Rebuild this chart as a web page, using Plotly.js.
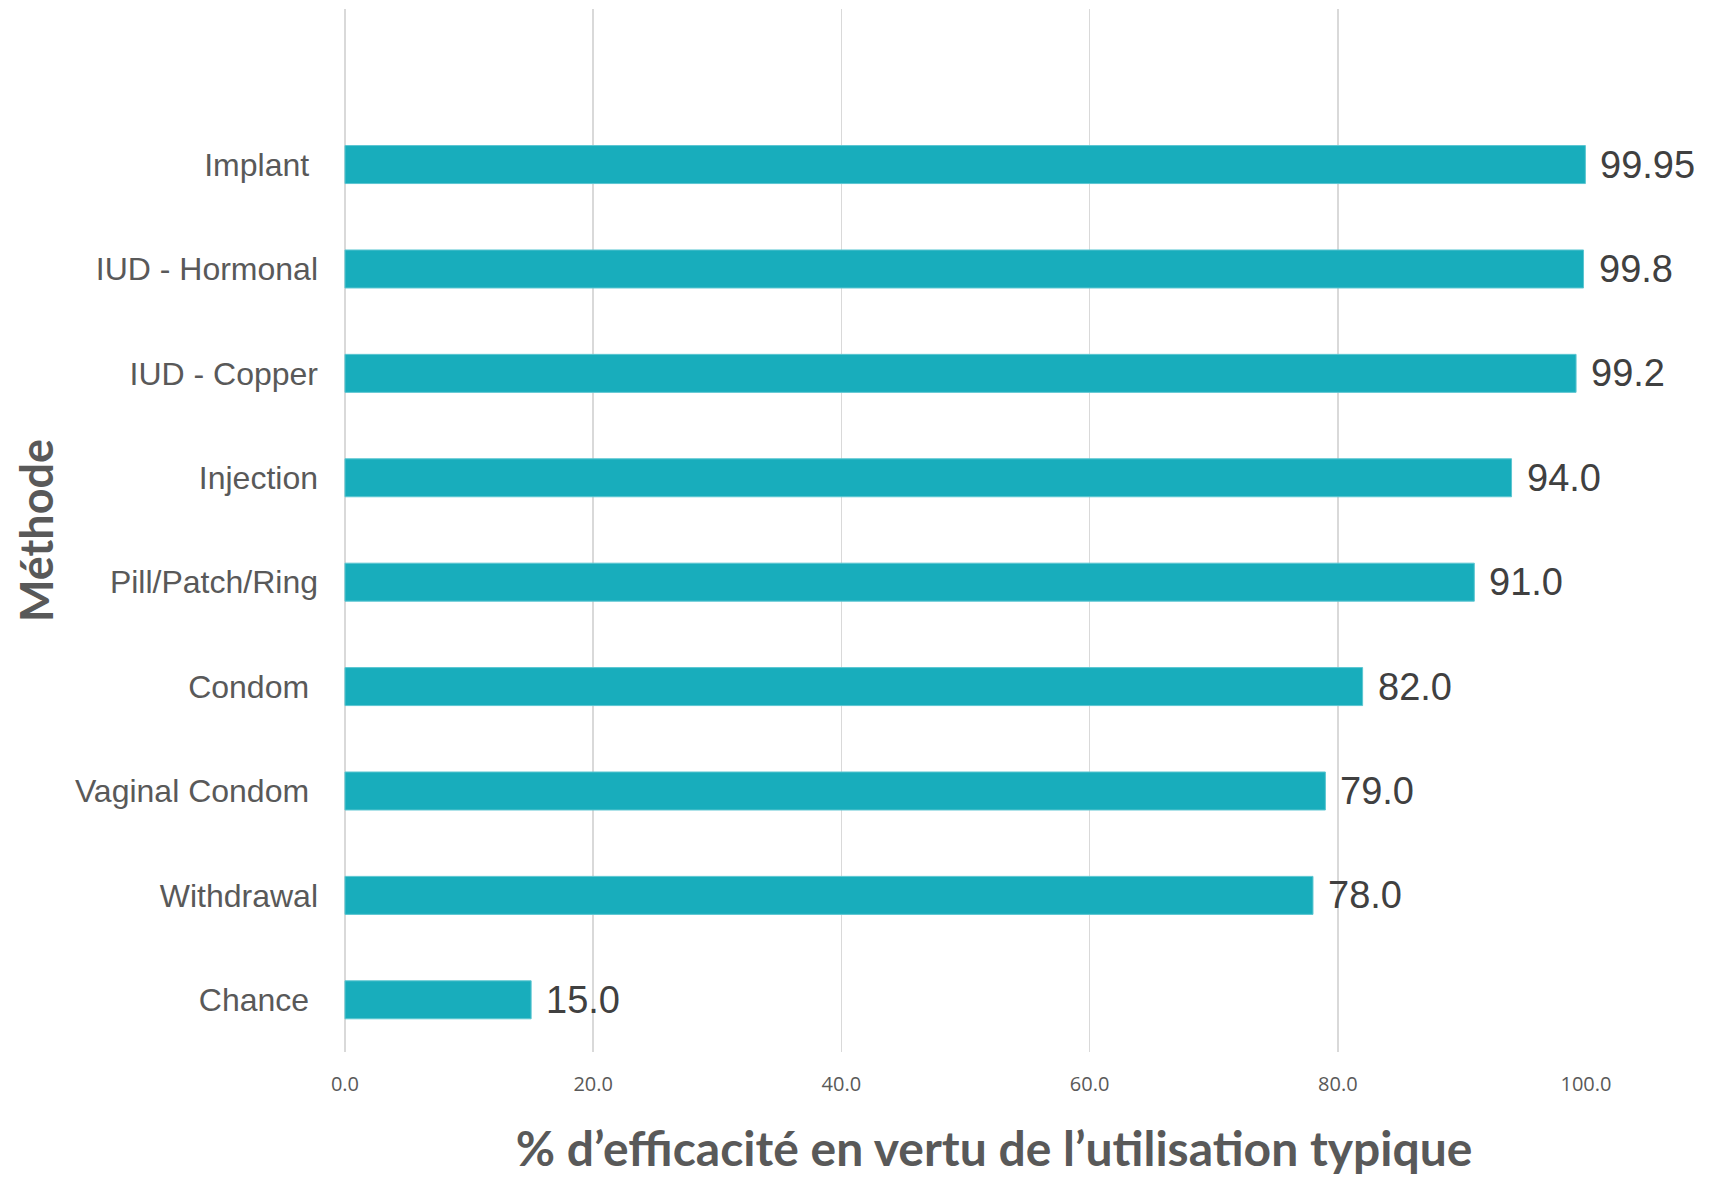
<!DOCTYPE html>
<html>
<head>
<meta charset="utf-8">
<script src="https://cdn.plot.ly/plotly-3.0.1.min.js"></script>
<style>
  html, body { margin: 0; padding: 0; background: #ffffff; }
  #chart { width: 1713px; height: 1181px; }
</style>
</head>
<body>
<div id="chart"></div>
<script>
// Categories, top to bottom as shown
const categories = [
  "Implant\u00a0",
  "IUD - Hormonal",
  "IUD - Copper",
  "Injection",
  "Pill/Patch/Ring",
  "Condom\u00a0",
  "Vaginal Condom\u00a0",
  "Withdrawal",
  "Chance\u00a0"
];
const values = [99.95, 99.8, 99.2, 94.0, 91.0, 82.0, 79.0, 78.0, 15.0];
const valueLabels = ["99.95", "99.8", "99.2", "94.0", "91.0", "82.0", "79.0", "78.0", "15.0"];
const xTickValues = [0, 20, 40, 60, 80, 100];
const xTickLabels = ["0.0", "20.0", "40.0", "60.0", "80.0", "100.0"];
const xTitle = "% d’efficacité en vertu de l’utilisation typique";
const yTitle = "Méthode";

const trace = {
  type: "bar",
  orientation: "h",
  x: values,
  y: categories,
  width: 0.364,
  marker: { color: "#18adbc", line: { color: "#5cc6d1", width: 1 } },
  hoverinfo: "x+y"
};

const annotations = values.map((v, i) => ({
  x: v,
  y: categories[i],
  xref: "x",
  yref: "y",
  text: valueLabels[i],
  showarrow: false,
  xanchor: "left",
  yanchor: "middle",
  xshift: 13,
  font: { family: "Liberation Sans, Arial, sans-serif", size: 38, color: "#404040" }
}));

// the reference title sits a little right of the plot centre
const xTitlePad = "\u200b" + "\u00a0".repeat(5);

const layout = {
  width: 1713,
  height: 1181,
  margin: { l: 344, r: 127, t: 9, b: 129 },
  paper_bgcolor: "#ffffff",
  plot_bgcolor: "#ffffff",
  showlegend: false,
  xaxis: {
    range: [-0.08, 100],
    tickvals: xTickValues,
    ticktext: xTickLabels,
    showgrid: true,
    gridcolor: "#d9d9d9",
    gridwidth: 1.5,
    zeroline: true,
    zerolinecolor: "#d9d9d9",
    zerolinewidth: 1.5,
    showline: false,
    ticks: "",
    ticklabelstandoff: 18,
    tickfont: { family: "Open Sans, sans-serif", size: 20, color: "#595959" },
    title: {
      text: xTitlePad + xTitle,
      font: { family: "Lato, sans-serif", size: 48, color: "#595959", weight: "bold" },
      standoff: 36
    },
    automargin: false,
    fixedrange: true
  },
  yaxis: {
    type: "category",
    categoryorder: "array",
    categoryarray: categories,
    range: [8.5, -1.49],
    showgrid: false,
    zeroline: false,
    showline: false,
    ticks: "",
    ticklabelstandoff: 25,
    tickfont: { family: "Liberation Sans, Arial, sans-serif", size: 32, color: "#595959" },
    title: {
      text: yTitle,
      font: { family: "Lato, sans-serif", size: 45, color: "#595959", weight: "bold" },
      standoff: 7
    },
    automargin: false,
    fixedrange: true
  },
  annotations: annotations
};

Plotly.newPlot("chart", [trace], layout, { displayModeBar: false, staticPlot: true });
</script>
</body>
</html>
